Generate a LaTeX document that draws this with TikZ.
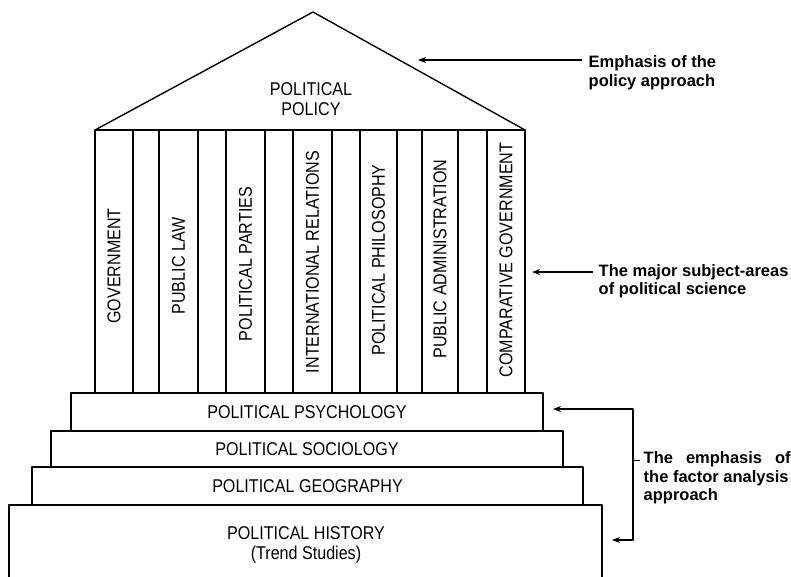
\documentclass[tikz,border=0pt]{standalone}
\usepackage{fontspec}
\usetikzlibrary{arrows.meta}
\newfontfamily\labfont{Liberation Sans}[FakeStretch=0.87]
\newfontfamily\annfont{Liberation Sans}[BoldFont={Liberation Sans Bold}]
\tikzset{
  lab/.style={font=\labfont\fontsize{18.5}{19.5}\selectfont, inner sep=0pt, align=center},
  vlab/.style={lab, rotate=90},
  stepbox/.style={draw, line width=1.4pt, inner sep=0pt, font=\labfont\fontsize{18.5}{19.5}\selectfont},
  ann/.style={font=\annfont\bfseries\fontsize{16.5}{18.5}\selectfont, inner sep=0pt, align=left, anchor=west},
  arr/.style={line width=1.4pt, -{Stealth[length=8pt,width=6pt]}},
}
\begin{document}
\begin{tikzpicture}[x=1pt,y=-1pt,line width=1.4pt,line join=round]
\useasboundingbox (0,0) rectangle (791,576);
% roof
\coordinate (apex) at (313,12);
\coordinate (rl) at (95,130);
\coordinate (rr) at (525,130);
\draw (rl) -- (apex) -- (rr) -- cycle;
\node[lab] (roof) at (311,99) {POLITICAL\\POLICY};
% columns
\draw (95,130) rectangle (525,393);
\foreach \x in {133,159,198,226,265,293,332,360,397,422,458,487}
  \draw (\x,130) -- (\x,393);
\node[vlab] (c1) at (114,266) {GOVERNMENT};
\node[vlab] (c2) at (178.5,266) {PUBLIC LAW};
\node[vlab] (c3) at (245.5,264) {POLITICAL PARTIES};
\node[vlab] (c4) at (312.5,262) {INTERNATIONAL RELATIONS};
\node[vlab] (c5) at (378.5,260) {POLITICAL PHILOSOPHY};
\node[vlab] (c6) at (440,259) {PUBLIC ADMINISTRATION};
\node[vlab] (c7) at (506,260) {COMPARATIVE GOVERNMENT};
% steps
\node[stepbox, minimum width=472pt, minimum height=38pt] (psy) at (307,412) {POLITICAL PSYCHOLOGY};
\node[stepbox, minimum width=512pt, minimum height=36pt] (soc) at (307,449) {POLITICAL SOCIOLOGY};
\node[stepbox, minimum width=551pt, minimum height=38pt] (geo) at (307.5,486) {POLITICAL GEOGRAPHY};
\draw (9,585) -- (9,505) -- (602,505) -- (602,585);
\node[lab, font=\labfont\fontsize{18.5}{20}\selectfont] (hist) at (306,545) {POLITICAL HISTORY\\(Trend Studies)};
% annotations
\coordinate (a1s) at (582,60);
\coordinate (a1e) at (418,60);
\draw[arr] (a1s) -- (a1e);
\node[ann] (t1) at (588,72.5) {Emphasis of the\\policy approach};
\coordinate (a2s) at (593,272);
\coordinate (a2e) at (532,272);
\draw[arr] (a2s) -- (a2e);
\node[ann] (t2) at (598,281) {The major subject-areas\\of political science};
\coordinate (b1) at (553,409);
\coordinate (b2) at (633,409);
\coordinate (b3) at (633,540);
\coordinate (b4) at (612,540);
\draw[line width=1.4pt, {Stealth[length=8pt,width=6pt]}-{Stealth[length=8pt,width=6pt]}] (b1) -- (b2) -- (b3) -- (b4);
\coordinate (tk1) at (633,460);
\coordinate (tk2) at (640,460);
\draw[line width=1pt] (tk1) -- (tk2);
\node[ann] (t3) at (643,478) {\makebox[147pt][s]{The emphasis of}\\the factor analysis\\approach};
\end{tikzpicture}
\end{document}
